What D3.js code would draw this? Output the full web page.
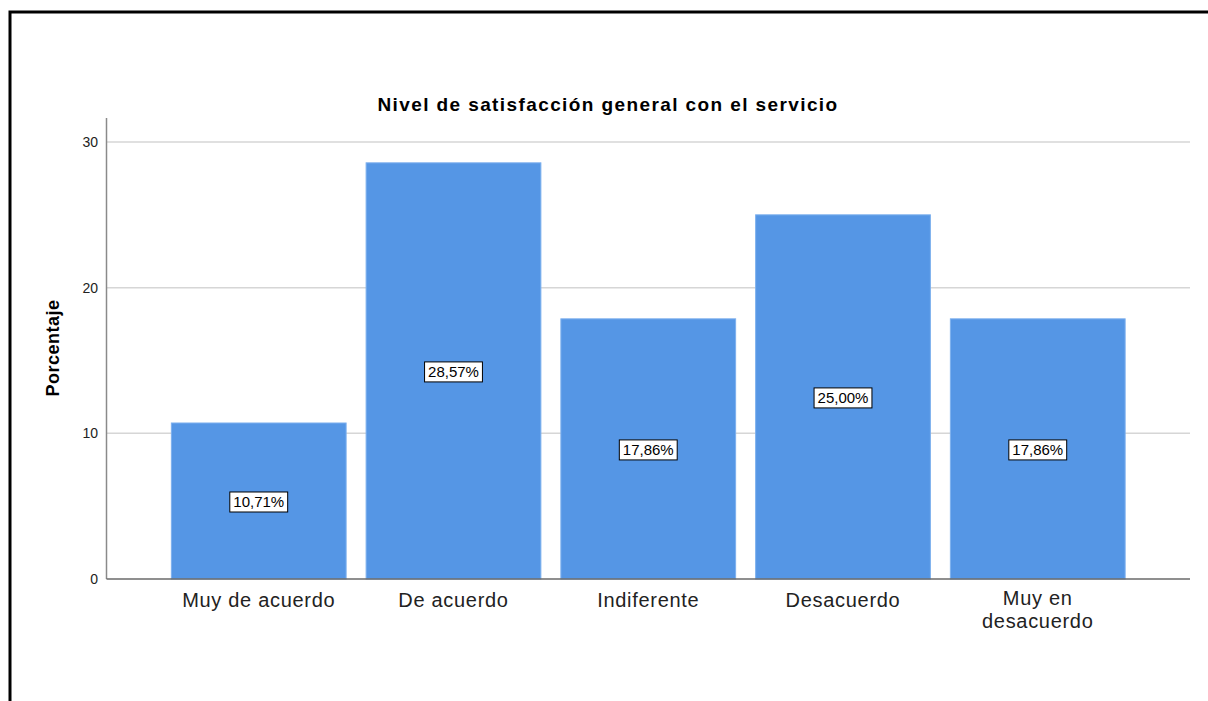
<!DOCTYPE html>
<html><head><meta charset="utf-8">
<script src="https://cdn.jsdelivr.net/npm/d3@7"></script>
<style>body{margin:0;background:#fff}svg{display:block}</style>
</head><body>
<script>
const categories = [["Muy de acuerdo"], ["De acuerdo"], ["Indiferente"], ["Desacuerdo"], ["Muy en", "desacuerdo"]];
const values = [10.71, 28.57, 17.86, 25.00, 17.86];
const yTicks = [0, 10, 20, 30];
const title = "Nivel de satisfacción general con el servicio";
const yTitle = "Porcentaje";

const W = 1208, H = 701;
const svg = d3.select("body").append("svg").attr("width", W).attr("height", H);
const font = "Arial, 'Liberation Sans', sans-serif";

// frame
svg.append("path").attr("d", `M10,${H} L10,12 L${W},12`).attr("fill", "none").attr("stroke", "#000").attr("stroke-width", 3);

const x0 = 106.5, x1 = 1190, yTop = 118, yBase = 579;
const x = d3.scaleBand().domain(d3.range(categories.length)).range([x0, x1]).paddingInner(0.1026).paddingOuter(0.333);
const y = d3.scaleLinear().domain([0, 30]).range([yBase, 142]);

// grid
svg.append("g").selectAll("line").data(yTicks.filter(d => d > 0)).join("line")
  .attr("x1", x0).attr("x2", x1).attr("y1", d => y(d)).attr("y2", d => y(d))
  .attr("stroke", "#d6d6d6").attr("stroke-width", 1.5);

// bars
svg.append("g").selectAll("rect").data(values).join("rect")
  .attr("x", (d, i) => x(i)).attr("width", x.bandwidth())
  .attr("y", d => y(d)).attr("height", d => yBase - y(d))
  .attr("fill", "#5596e5").attr("stroke", "#7db0ee").attr("stroke-width", 1);

// axes
svg.append("line").attr("x1", x0).attr("x2", x0).attr("y1", yTop).attr("y2", yBase).attr("stroke", "#8a8a8a").attr("stroke-width", 1.5);
svg.append("line").attr("x1", x0).attr("x2", x1).attr("y1", yBase).attr("y2", yBase).attr("stroke", "#6a6a6a").attr("stroke-width", 1.5);

// y tick labels
svg.append("g").selectAll("text").data(yTicks).join("text")
  .attr("x", 98).attr("y", d => y(d) + 5).attr("text-anchor", "end")
  .attr("font-family", font).attr("font-size", 14).attr("fill", "#222").text(d => d);

// x labels
const xl = svg.append("g").selectAll("text").data(categories).join("text")
  .attr("text-anchor", "middle").attr("font-family", font).attr("font-size", 20).attr("fill", "#222")
  .attr("letter-spacing", 0.7)
  .attr("transform", (d, i) => `translate(${x(i) + x.bandwidth() / 2},${d.length > 1 ? 605 : 607})`);
xl.selectAll("tspan").data(d => d).join("tspan").attr("x", 0).attr("dy", (d, j) => j ? 23 : 0).text(d => d);

// data labels
const fmt = v => v.toFixed(2).replace(".", ",") + "%";
const lab = svg.append("g").selectAll("g").data(values).join("g")
  .attr("transform", (d, i) => `translate(${x(i) + x.bandwidth() / 2},${(y(d) + yBase) / 2 + 1})`);
lab.append("text").attr("text-anchor", "middle").attr("y", 5.5)
  .attr("font-family", font).attr("font-size", 15).attr("fill", "#000").text(fmt);
lab.each(function () {
  const g = d3.select(this); const bb = g.select("text").node().getBBox();
  g.insert("rect", "text").attr("x", bb.x - 3.5).attr("y", -10).attr("width", bb.width + 7).attr("height", 20)
    .attr("fill", "#fff").attr("stroke", "#000").attr("stroke-width", 1);
});

// title
svg.append("text").attr("x", 608).attr("y", 111).attr("text-anchor", "middle")
  .attr("font-family", font).attr("font-weight", "bold").attr("font-size", 19).attr("letter-spacing", 1.4)
  .attr("fill", "#000").text(title);

// y title
svg.append("text").attr("transform", `translate(59,348) rotate(-90)`).attr("text-anchor", "middle")
  .attr("font-family", font).attr("font-weight", "bold").attr("font-size", 18).attr("letter-spacing", 0.5)
  .attr("fill", "#000").text(yTitle);
</script>
</body></html>
